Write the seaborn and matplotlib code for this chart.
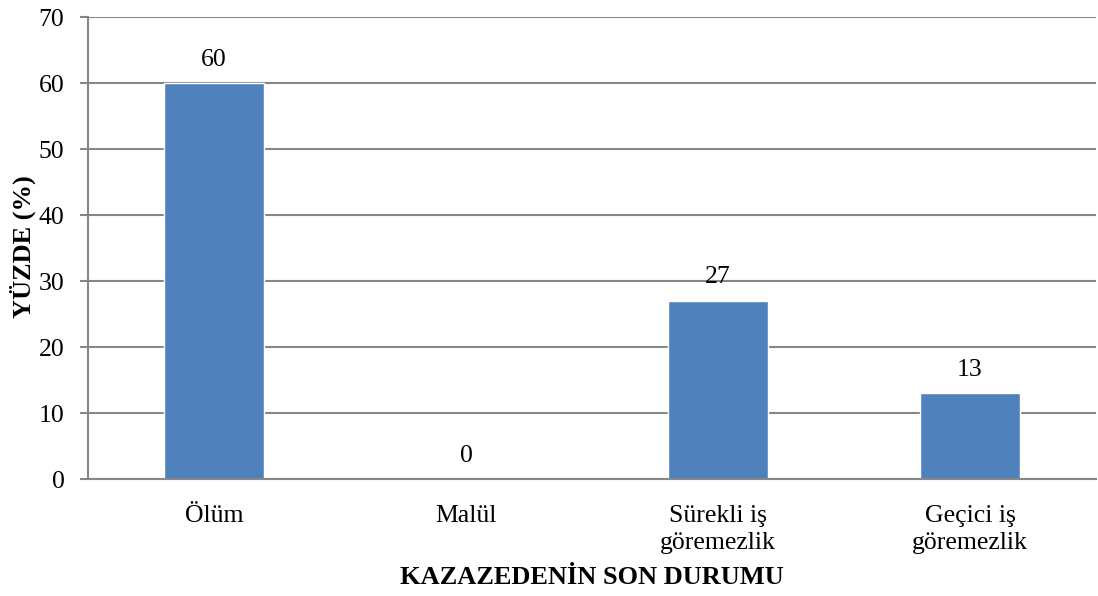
import matplotlib
matplotlib.use("Agg")
import matplotlib.pyplot as plt
import seaborn as sns
import pandas as pd

categories = ["Ölüm", "Malül", "Sürekli iş\ngöremezlik", "Geçici iş\ngöremezlik"]
values = [60, 0, 27, 13]
yticks = [0, 10, 20, 30, 40, 50, 60, 70]

sns.set_theme(style="white")
plt.rcParams['font.family'] = ['Liberation Serif', 'DejaVu Serif']

W, H = 1098, 596
fig = plt.figure(figsize=(W / 100, H / 100), dpi=100)
ax = fig.add_axes([88 / W, (H - 479) / H, 1008 / W, 462 / H])

df = pd.DataFrame({"cat": categories, "val": values})
sns.barplot(data=df, x="cat", y="val", color="#4F81BD", saturation=1, width=0.4, ax=ax)

gray = "#878787"
ax.set_ylim(0, 70)
ax.set_yticks(yticks)
ax.set_xlim(-0.5, len(categories) - 0.5)
ax.yaxis.grid(True, color=gray, linewidth=1.5)
ax.set_axisbelow(True)
for s in ["top", "right"]:
    ax.spines[s].set_visible(False)
for s in ["left", "bottom"]:
    ax.spines[s].set_color(gray)
    ax.spines[s].set_linewidth(1.5)

ax.tick_params(axis="y", which="major", left=True, length=6, width=1.5, color=gray,
               labelsize=18.5, pad=11, labelcolor="black")
ax.tick_params(axis="x", bottom=False, labelsize=18.5, pad=13, labelcolor="black")
for lab in ax.get_xticklabels():
    lab.set_linespacing(1.3)
    lab.set_verticalalignment("top")

for i, v in enumerate(values):
    ax.annotate(f"{v}", (i, v), xytext=(0, 9), textcoords="offset points",
                ha="center", va="bottom", fontsize=18.5, color="black")

ax.set_xlabel("KAZAZEDENİN SON DURUMU", fontsize=19, fontweight="bold", color="black")
ax.set_ylabel("YÜZDE (%)", fontsize=19, fontweight="bold", color="black")
ax.xaxis.set_label_coords(0.5, (479 - 578) / 462)
ax.xaxis.label.set_va("center")
ax.yaxis.set_label_coords((23 - 88) / 1008, (479 - 247) / 462)
ax.yaxis.label.set_va("center")

fig.savefig("out.png", dpi=100, facecolor="white")
